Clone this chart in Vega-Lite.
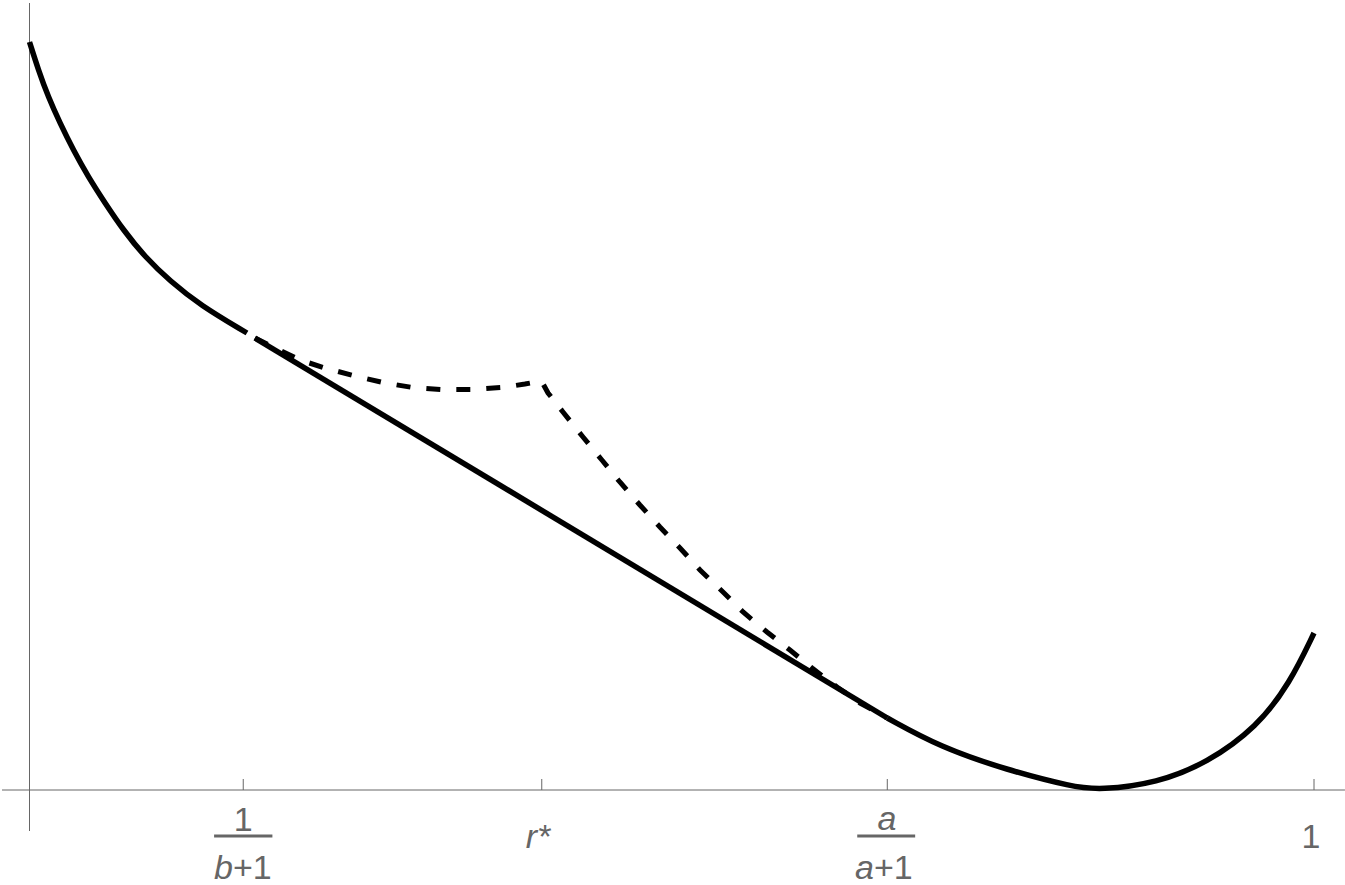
{
  "$schema": "https://vega.github.io/schema/vega-lite/v6.json",
  "width": 1345,
  "height": 885,
  "autosize": "none",
  "padding": 0,
  "background": "white",
  "config": {"view": {"stroke": null}},
  "datasets": {
    "axes": [
      {"x": -0.0214, "x2": 1.0241, "y": 0, "y2": 0},
      {"x": 0, "x2": 0, "y": 7.87, "y2": -0.41}
    ],
    "ticks": [
      {"x": 0.1664, "y": 0, "y2": 0.11},
      {"x": 0.3988, "y": 0, "y2": 0.11},
      {"x": 0.6678, "y": 0, "y2": 0.11},
      {"x": 1.0, "y": 0, "y2": 0.11}
    ],
    "bars": [
      {"x": 0.1437, "x2": 0.1891, "y": -0.46},
      {"x": 0.6444, "x2": 0.6895, "y": -0.46}
    ],
    "labels": [
      {"text": "1", "x": 0.1664, "y": -0.41, "style": "uc"},
      {"text": "b", "x": 0.1584, "y": -0.89, "style": "ir"},
      {"text": "+1", "x": 0.1584, "y": -0.89, "style": "ul"},
      {"text": "r*", "x": 0.3959, "y": -0.58, "style": "ic"},
      {"text": "a", "x": 0.6676, "y": -0.4, "style": "ic"},
      {"text": "a", "x": 0.6574, "y": -0.89, "style": "ir"},
      {"text": "+1", "x": 0.6574, "y": -0.89, "style": "ul"},
      {"text": "1", "x": 0.9977, "y": -0.58, "style": "uc"}
    ],
    "curves": [
      {"seg": "s1", "x": 0.0, "y": 7.48},
      {"seg": "s1", "x": 0.0069, "y": 7.2},
      {"seg": "s1", "x": 0.0146, "y": 6.93},
      {"seg": "s1", "x": 0.0237, "y": 6.67},
      {"seg": "s1", "x": 0.0341, "y": 6.4},
      {"seg": "s1", "x": 0.0458, "y": 6.13},
      {"seg": "s1", "x": 0.0588, "y": 5.87},
      {"seg": "s1", "x": 0.073, "y": 5.6},
      {"seg": "s1", "x": 0.0899, "y": 5.33},
      {"seg": "s1", "x": 0.1094, "y": 5.09},
      {"seg": "s1", "x": 0.1327, "y": 4.85},
      {"seg": "s1", "x": 0.1693, "y": 4.57},
      {"seg": "s2", "x": 0.1755, "y": 4.52},
      {"seg": "s2", "x": 0.6678, "y": 0.72},
      {"seg": "s3", "x": 0.6678, "y": 0.72},
      {"seg": "s3", "x": 0.7088, "y": 0.43},
      {"seg": "s3", "x": 0.761, "y": 0.2},
      {"seg": "s3", "x": 0.8124, "y": 0.03},
      {"seg": "s3", "x": 0.8334, "y": 0.0},
      {"seg": "s3", "x": 0.8778, "y": 0.07},
      {"seg": "s3", "x": 0.9167, "y": 0.27},
      {"seg": "s3", "x": 0.9556, "y": 0.63},
      {"seg": "s3", "x": 0.9813, "y": 1.07},
      {"seg": "s3", "x": 1.0, "y": 1.57}
    ],
    "dashed": [
      {"x": 0.1755, "y": 4.52},
      {"x": 0.1911, "y": 4.42},
      {"x": 0.2106, "y": 4.3},
      {"x": 0.23, "y": 4.22},
      {"x": 0.2534, "y": 4.14},
      {"x": 0.2768, "y": 4.07},
      {"x": 0.2985, "y": 4.025},
      {"x": 0.3211, "y": 4.005},
      {"x": 0.3445, "y": 4.005},
      {"x": 0.3678, "y": 4.025},
      {"x": 0.3857, "y": 4.06},
      {"x": 0.3986, "y": 4.09},
      {"x": 0.4037, "y": 3.97},
      {"x": 0.4153, "y": 3.78},
      {"x": 0.4309, "y": 3.53},
      {"x": 0.4456, "y": 3.3},
      {"x": 0.4596, "y": 3.08},
      {"x": 0.4752, "y": 2.85},
      {"x": 0.4908, "y": 2.63},
      {"x": 0.5064, "y": 2.42},
      {"x": 0.522, "y": 2.2},
      {"x": 0.5399, "y": 1.98},
      {"x": 0.5555, "y": 1.78},
      {"x": 0.5741, "y": 1.58},
      {"x": 0.592, "y": 1.4},
      {"x": 0.6092, "y": 1.22},
      {"x": 0.6286, "y": 1.03},
      {"x": 0.6466, "y": 0.87},
      {"x": 0.6678, "y": 0.72}
    ]
  },
  "layer": [
    {
      "data": {"name": "axes"},
      "mark": {"type": "rule", "color": "#666666", "strokeWidth": 1},
      "encoding": {
        "x": {"field": "x", "type": "quantitative", "scale": {"domain": [-0.02297, 1.02413], "nice": false, "zero": false}, "axis": null},
        "x2": {"field": "x2"},
        "y": {"field": "y", "type": "quantitative", "scale": {"domain": [-0.95, 7.9], "nice": false, "zero": false}, "axis": null},
        "y2": {"field": "y2"}
      }
    },
    {
      "data": {"name": "ticks"},
      "mark": {"type": "rule", "color": "#666666", "strokeWidth": 1},
      "encoding": {
        "x": {"field": "x", "type": "quantitative"},
        "y": {"field": "y", "type": "quantitative"},
        "y2": {"field": "y2"}
      }
    },
    {
      "data": {"name": "curves"},
      "mark": {"type": "line", "color": "black", "strokeWidth": 5.5, "interpolate": "basis", "strokeCap": "butt", "strokeJoin": "round"},
      "encoding": {
        "x": {"field": "x", "type": "quantitative"},
        "y": {"field": "y", "type": "quantitative"},
        "detail": {"field": "seg"},
        "order": {"field": "x", "type": "quantitative"}
      }
    },
    {
      "data": {"name": "dashed"},
      "mark": {"type": "line", "color": "black", "strokeWidth": 5, "interpolate": "linear", "strokeCap": "butt", "strokeDash": [14, 16]},
      "encoding": {
        "x": {"field": "x", "type": "quantitative"},
        "y": {"field": "y", "type": "quantitative"},
        "order": {"field": "x", "type": "quantitative"}
      }
    },
    {
      "data": {"name": "bars"},
      "mark": {"type": "rule", "color": "#666666", "strokeWidth": 3},
      "encoding": {
        "x": {"field": "x", "type": "quantitative"},
        "x2": {"field": "x2"},
        "y": {"field": "y", "type": "quantitative"}
      }
    },
    {
      "data": {"name": "labels"},
      "transform": [{"filter": "datum.style === 'uc'"}],
      "mark": {"type": "text", "font": "Liberation Sans", "fontSize": 34, "color": "#666666", "align": "center", "baseline": "alphabetic"},
      "encoding": {
        "x": {"field": "x", "type": "quantitative"},
        "y": {"field": "y", "type": "quantitative"},
        "text": {"field": "text"}
      }
    },
    {
      "data": {"name": "labels"},
      "transform": [{"filter": "datum.style === 'ul'"}],
      "mark": {"type": "text", "font": "Liberation Sans", "fontSize": 34, "color": "#666666", "align": "left", "baseline": "alphabetic"},
      "encoding": {
        "x": {"field": "x", "type": "quantitative"},
        "y": {"field": "y", "type": "quantitative"},
        "text": {"field": "text"}
      }
    },
    {
      "data": {"name": "labels"},
      "transform": [{"filter": "datum.style === 'ic'"}],
      "mark": {"type": "text", "font": "Liberation Sans", "fontSize": 34, "fontStyle": "italic", "color": "#666666", "align": "center", "baseline": "alphabetic"},
      "encoding": {
        "x": {"field": "x", "type": "quantitative"},
        "y": {"field": "y", "type": "quantitative"},
        "text": {"field": "text"}
      }
    },
    {
      "data": {"name": "labels"},
      "transform": [{"filter": "datum.style === 'ir'"}],
      "mark": {"type": "text", "font": "Liberation Sans", "fontSize": 34, "fontStyle": "italic", "color": "#666666", "align": "right", "baseline": "alphabetic"},
      "encoding": {
        "x": {"field": "x", "type": "quantitative"},
        "y": {"field": "y", "type": "quantitative"},
        "text": {"field": "text"}
      }
    }
  ]
}
